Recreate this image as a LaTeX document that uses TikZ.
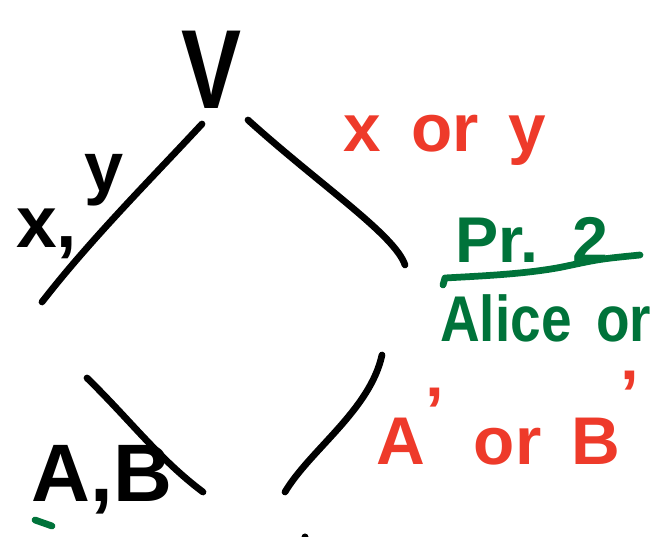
\documentclass[tikz,border=0pt]{standalone}
\usepackage{fontspec}
\setmainfont{Liberation Sans}
\usetikzlibrary{positioning, calc}

\definecolor{penred}{HTML}{EE3A2A}
\definecolor{pengreen}{HTML}{00733A}

\begin{document}
\begin{tikzpicture}[x=0.025cm, y=-0.025cm,
  stroke/.style={line width=4.8pt, line cap=round, line join=round},
  blacktxt/.style={inner sep=0pt, font=\fontsize{58}{58}\selectfont\bfseries},
  redtxt/.style={inner sep=0pt, text=penred, font=\fontsize{48}{48}\selectfont\bfseries},
  greentxt/.style={inner sep=0pt, text=pengreen, font=\fontsize{46}{46}\selectfont\bfseries}]
\useasboundingbox (0,0) rectangle (654,537);
% vertex label and edge ends
\node[inner sep=0pt, font=\fontsize{80}{80}\selectfont\bfseries, xscale=0.8] (v) at (212,70) {V};
\coordinate (lt1) at (202,124); \coordinate (lt2) at (42,302);
\coordinate (rt1) at (248,120); \coordinate (rt2) at (405,265);
\coordinate (rb1) at (382,355); \coordinate (rb2) at (285,492);
\coordinate (lb1) at (87,378);  \coordinate (lb2) at (203,492);
% diamond edges
\draw[stroke] (lt1) .. controls (150,180) and (90,240) .. (lt2);
\draw[stroke] (rt1) .. controls (320,185) and (395,235) .. (rt2);
\draw[stroke] (rb1) .. controls (370,410) and (310,450) .. (rb2);
\draw[stroke] (lb1) .. controls (130,420) and (160,460) .. (lb2);
% labels
\node[blacktxt, font=\fontsize{52}{52}\selectfont\bfseries, anchor=base west] (xlab) at (16,248) {x,};
\node[blacktxt, font=\fontsize{50}{50}\selectfont\bfseries, anchor=base west] (ylab) at (84,192) {y};
\node[redtxt] (xory) at (445,140) {x\, or\, y};
\node[greentxt] (pr) at (532,240) {Pr.\, 2};
\coordinate (bar1) at (443,285); \coordinate (bar2) at (640,255);
\draw[stroke, pengreen] (bar1) -- (445,278) .. controls (480,276) and (530,274) .. (567,266) .. controls (600,259) .. (bar2);
\node[greentxt, anchor=west, xscale=0.85] (alice) at (440,318) {Alice\, or};
\node[redtxt, anchor=base west] (aorb) at (376,465) {A\raisebox{.45em}{'}\, or\, B\raisebox{.7em}{'}};
\node[blacktxt] (ab) at (102,480) {A,B};
% stray marks
\coordinate (gm1) at (35,520); \coordinate (gm2) at (52,526);
\draw[stroke, pengreen] (gm1) -- (gm2);
\coordinate (dot) at (305,537);
\fill (dot) circle (3.5);
\end{tikzpicture}
\end{document}
